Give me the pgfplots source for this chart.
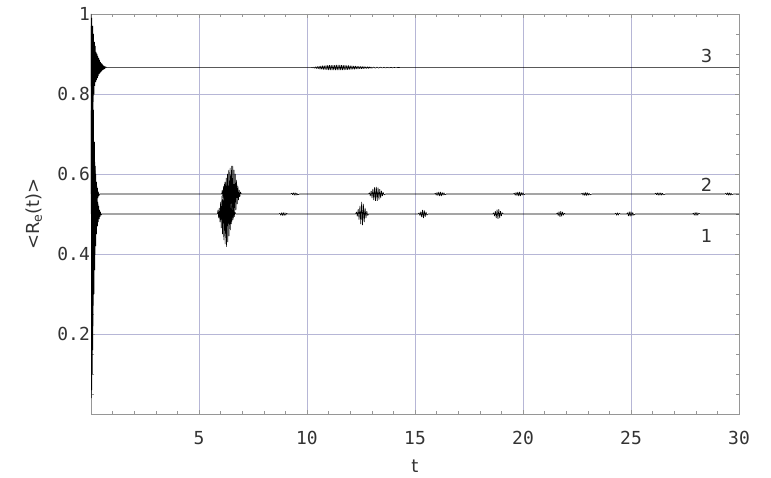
\documentclass[border=0pt]{standalone}
\usepackage{fontspec}
\setmainfont{DejaVu Sans}
\newfontfamily\monofont{DejaVu Sans Mono}
\usepackage{pgfplots}
\pgfplotsset{compat=1.18}
\definecolor{gridc}{RGB}{182,182,214}
\definecolor{framec}{RGB}{150,150,150}

\begin{document}
\begin{tikzpicture}
\useasboundingbox (-91bp,-64bp) rectangle (680bp,414bp);
\begin{axis}[
  at={(0,0)}, anchor=south west,
  scale only axis, width=648bp, height=400bp,
  xmin=0, xmax=30, ymin=0, ymax=1,
  xtick={5,10,15,20,25,30}, xticklabels={5,10,15,20,25,30},
  ytick={0.2,0.4,0.6,0.8,1}, yticklabels={0.2,0.4,0.6,0.8,1},
  minor xtick={1,2,3,4,6,7,8,9,11,12,13,14,16,17,18,19,21,22,23,24,26,27,28,29},
  minor ytick={0.05,0.1,0.15,0.25,0.3,0.35,0.45,0.5,0.55,0.65,0.7,0.75,0.85,0.9,0.95},
  grid=major,
  major grid style={gridc, line width=0.7bp},
  axis line style={framec, line width=0.7bp},
  tick style={framec, line width=0.5bp},
  major tick length=4bp, minor tick length=3bp,
  tick label style={font=\monofont\fontsize{18}{20}\selectfont, text=black!80},
  xticklabel style={anchor=center, yshift=-24bp},
  yticklabel style={anchor=east, inner sep=0pt, xshift=-1bp},
  xlabel={t}, ylabel={<R\textsubscript{e}(t)>},
  label style={font=\fontsize{18}{20}\selectfont, text=black!80},
  xlabel style={at={(axis description cs:0.5,-0.13)}, anchor=center},
  ylabel style={at={(axis description cs:-0.088,0.5)}, anchor=center},
  curve/.style={black, mark=none, line width=0.6bp, line join=bevel},
]
% curve 1, settles at 0.5
\addplot[curve] coordinates {
 (0,0.5)(0.01,0.97)(0.02,0.04)(0.03,0.95)(0.04,0.06)(0.05,0.92)(0.06,0.10)(0.07,0.88)
 (0.08,0.16)(0.09,0.83)(0.10,0.22)(0.12,0.76)(0.14,0.30)(0.16,0.68)(0.18,0.36)(0.20,0.62)
 (0.22,0.42)(0.24,0.57)(0.26,0.45)(0.28,0.545)(0.30,0.47)(0.32,0.53)(0.34,0.48)(0.36,0.52)
 (0.38,0.487)(0.40,0.51)(0.42,0.493)(0.44,0.505)(0.46,0.497)(0.50,0.5)
 (5.85,0.5)(5.88,0.51)(5.91,0.49)(5.94,0.515)(5.97,0.48)(6.00,0.53)(6.03,0.465)(6.06,0.545)
 (6.09,0.45)(6.12,0.56)(6.15,0.435)(6.18,0.575)(6.21,0.425)(6.24,0.58)(6.27,0.418)(6.30,0.575)
 (6.33,0.43)(6.36,0.565)(6.39,0.445)(6.42,0.55)(6.45,0.46)(6.48,0.535)(6.51,0.475)(6.54,0.52)
 (6.57,0.485)(6.60,0.51)(6.63,0.493)(6.66,0.505)(6.70,0.5)
 (8.7,0.5)(8.74,0.502)(8.78,0.497)(8.82,0.503)(8.86,0.496)(8.90,0.504)(8.94,0.496)(8.98,0.503)
 (9.02,0.497)(9.06,0.502)(9.1,0.5)
 (12.25,0.5)(12.29,0.505)(12.33,0.494)(12.37,0.512)(12.41,0.486)(12.45,0.52)(12.49,0.475)
 (12.53,0.53)(12.57,0.472)(12.61,0.525)(12.65,0.48)(12.69,0.515)(12.73,0.49)(12.77,0.507)
 (12.81,0.496)(12.85,0.5)
 (15.15,0.5)(15.19,0.503)(15.23,0.496)(15.27,0.506)(15.31,0.492)(15.35,0.51)(15.39,0.49)
 (15.43,0.509)(15.47,0.493)(15.51,0.505)(15.55,0.497)(15.6,0.5)
 (18.6,0.5)(18.64,0.503)(18.68,0.495)(18.72,0.507)(18.76,0.49)(18.80,0.511)(18.84,0.488)
 (18.88,0.512)(18.92,0.49)(18.96,0.507)(19.00,0.495)(19.04,0.503)(19.1,0.5)
 (21.55,0.5)(21.59,0.503)(21.63,0.496)(21.67,0.506)(21.71,0.493)(21.75,0.507)(21.79,0.494)
 (21.83,0.505)(21.87,0.497)(21.91,0.502)(21.95,0.5)
 (24.25,0.5)(24.29,0.502)(24.33,0.497)(24.37,0.503)(24.41,0.497)(24.45,0.502)(24.5,0.5)
 (24.8,0.5)(24.84,0.503)(24.88,0.495)(24.92,0.506)(24.96,0.494)(25.00,0.506)(25.04,0.495)
 (25.08,0.504)(25.12,0.497)(25.2,0.5)
 (27.85,0.5)(27.89,0.502)(27.93,0.497)(27.97,0.504)(28.01,0.496)(28.05,0.504)(28.09,0.497)
 (28.13,0.502)(28.2,0.5)(30,0.5)
};
% curve 2, settles at 0.55
\addplot[curve] coordinates {
 (0,0.55)(0.02,0.85)(0.04,0.25)(0.06,0.80)(0.08,0.32)(0.10,0.74)(0.12,0.38)(0.14,0.68)
 (0.16,0.44)(0.18,0.63)(0.20,0.48)(0.22,0.60)(0.24,0.51)(0.26,0.58)(0.28,0.53)(0.30,0.565)
 (0.32,0.54)(0.34,0.556)(0.36,0.545)(0.40,0.55)
 (6.05,0.55)(6.08,0.56)(6.11,0.54)(6.14,0.57)(6.17,0.53)(6.20,0.58)(6.23,0.52)(6.26,0.59)
 (6.29,0.51)(6.32,0.60)(6.35,0.50)(6.38,0.61)(6.41,0.49)(6.44,0.615)(6.47,0.485)(6.50,0.62)
 (6.53,0.485)(6.56,0.62)(6.59,0.49)(6.62,0.61)(6.65,0.50)(6.68,0.60)(6.71,0.51)(6.74,0.585)
 (6.77,0.525)(6.80,0.57)(6.83,0.535)(6.86,0.56)(6.89,0.543)(6.92,0.555)(6.96,0.55)
 (9.25,0.55)(9.29,0.552)(9.33,0.548)(9.37,0.553)(9.41,0.547)(9.45,0.553)(9.49,0.547)
 (9.53,0.552)(9.57,0.548)(9.65,0.55)
 (12.85,0.55)(12.89,0.553)(12.93,0.545)(12.97,0.558)(13.01,0.54)(13.05,0.563)(13.09,0.535)
 (13.13,0.567)(13.17,0.533)(13.21,0.568)(13.25,0.533)(13.29,0.566)(13.33,0.536)(13.37,0.562)
 (13.41,0.54)(13.45,0.558)(13.49,0.545)(13.53,0.554)(13.57,0.548)(13.65,0.55)
 (15.9,0.55)(15.94,0.552)(15.98,0.547)(16.02,0.554)(16.06,0.546)(16.10,0.555)(16.14,0.545)
 (16.18,0.555)(16.22,0.545)(16.26,0.554)(16.30,0.547)(16.34,0.553)(16.38,0.548)(16.45,0.55)
 (19.55,0.55)(19.6,0.552)(19.64,0.547)(19.68,0.554)(19.72,0.546)(19.76,0.555)(19.80,0.545)
 (19.84,0.555)(19.88,0.545)(19.92,0.554)(19.96,0.547)(20.0,0.553)(20.04,0.548)(20.1,0.55)
 (22.7,0.55)(22.74,0.552)(22.78,0.547)(22.82,0.553)(22.86,0.546)(22.90,0.554)(22.94,0.546)
 (22.98,0.553)(23.02,0.547)(23.06,0.552)(23.10,0.548)(23.2,0.55)
 (26.1,0.55)(26.14,0.552)(26.18,0.548)(26.22,0.553)(26.26,0.547)(26.30,0.553)(26.34,0.547)
 (26.38,0.553)(26.42,0.547)(26.46,0.552)(26.5,0.548)(26.6,0.55)
 (29.35,0.55)(29.39,0.552)(29.43,0.548)(29.47,0.553)(29.51,0.547)(29.55,0.553)(29.59,0.547)
 (29.63,0.552)(29.67,0.548)(29.75,0.55)(30,0.55)
};
% curve 3, settles at 0.866
\addplot[curve] coordinates {
 (0,1.0)(0.02,0.74)(0.04,0.99)(0.06,0.76)(0.08,0.97)(0.10,0.78)(0.12,0.95)(0.14,0.80)
 (0.16,0.93)(0.18,0.82)(0.20,0.92)(0.22,0.83)(0.24,0.905)(0.26,0.835)(0.28,0.90)(0.30,0.84)
 (0.32,0.895)(0.34,0.845)(0.36,0.89)(0.38,0.85)(0.40,0.885)(0.42,0.852)(0.44,0.88)(0.46,0.855)
 (0.48,0.877)(0.50,0.857)(0.52,0.875)(0.54,0.86)(0.56,0.872)(0.58,0.861)(0.60,0.870)(0.62,0.862)
 (0.64,0.869)(0.66,0.864)(0.68,0.868)(0.72,0.866)
 (10.20,0.866)(10.24,0.8664)(10.28,0.8652)(10.32,0.8672)(10.36,0.8644)(10.40,0.868)
 (10.44,0.8636)(10.48,0.8688)(10.52,0.8628)(10.56,0.8696)(10.60,0.862)(10.64,0.8702)
 (10.68,0.8616)(10.72,0.8706)(10.76,0.8612)(10.80,0.871)(10.84,0.8608)(10.88,0.8714)
 (10.92,0.8604)(10.96,0.8718)(11.00,0.860)(11.04,0.872)(11.08,0.8599)(11.12,0.8721)
 (11.16,0.8598)(11.20,0.8722)(11.24,0.8597)(11.28,0.8723)(11.32,0.8596)(11.36,0.8724)
 (11.40,0.8595)(11.44,0.8725)(11.48,0.8595)(11.52,0.8724)(11.56,0.8597)(11.60,0.8722)
 (11.64,0.8599)(11.68,0.872)(11.72,0.8601)(11.76,0.8718)(11.80,0.8603)(11.84,0.8715)
 (11.88,0.8606)(11.92,0.8713)(11.96,0.8609)(12.00,0.871)(12.04,0.8612)(12.08,0.8707)
 (12.12,0.8615)(12.16,0.8703)(12.20,0.8618)(12.24,0.870)(12.28,0.8621)(12.32,0.8697)
 (12.36,0.8625)(12.40,0.8694)(12.44,0.8628)(12.48,0.8691)(12.52,0.8631)(12.56,0.8688)
 (12.60,0.8633)(12.64,0.8686)(12.68,0.8635)(12.72,0.8683)(12.76,0.8638)(12.80,0.8681)
 (12.84,0.864)(12.88,0.8679)(12.92,0.8643)(12.96,0.8676)(13.00,0.8645)
 (13.08,0.8674)(13.16,0.8647)(13.24,0.8672)(13.32,0.8649)(13.40,0.867)(13.48,0.8651)
 (13.56,0.8668)(13.64,0.8652)(13.72,0.8667)(13.80,0.8654)(13.88,0.8665)(13.96,0.8656)
 (14.04,0.8663)(14.12,0.8657)(14.20,0.8662)(14.40,0.866)(30,0.866)
};
\node[font=\fontsize{18}{20}\selectfont, text=black!80] at (axis cs:28.5,0.895) {3};
\node[font=\fontsize{18}{20}\selectfont, text=black!80] at (axis cs:28.5,0.5725) {2};
\node[font=\fontsize{18}{20}\selectfont, text=black!80] at (axis cs:28.5,0.445) {1};
\end{axis}
\end{tikzpicture}
\end{document}
